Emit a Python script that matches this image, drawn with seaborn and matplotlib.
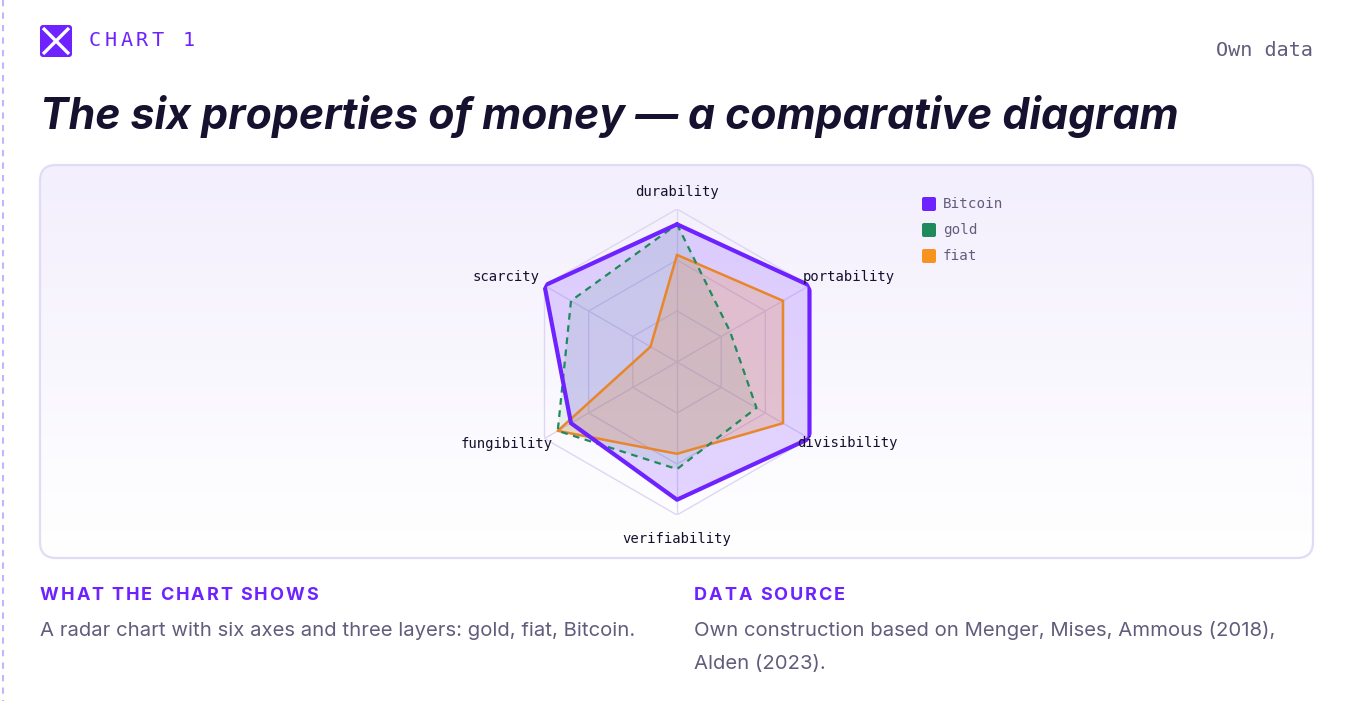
import numpy as np
import pandas as pd
import matplotlib
matplotlib.use("Agg")

import matplotlib.pyplot as plt
import seaborn as sns
from matplotlib.patches import FancyBboxPatch


# ==============================
# DATA
# ==============================
AXES_LABELS = ["durability", "portability", "divisibility",
               "verifiability", "fungibility", "scarcity"]
BITCOIN = [9, 10, 10, 9, 8, 10]
GOLD = [9, 4, 6, 7, 9, 8]
FIAT = [7, 8, 8, 6, 9, 2]
SERIES_NAMES = ["Bitcoin", "gold", "fiat"]
R_MAX = 10
RINGS = [10 / 3, 20 / 3, 10]

PURPLE = "#6e22ff"
GREEN = "#1f8a5c"
ORANGE = "#e8862c"
ORANGE_KEY = "#f7931e"
INK = "#16112e"
MUTED = "#625c7c"
GRID = "#ddd7f3"

W, H = 1350, 701

sns.set_theme(style="white")
plt.rcParams["font.family"] = ["Inter", "DejaVu Sans"]

fig = plt.figure(figsize=(W / 100, H / 100), dpi=100)
fig.patch.set_facecolor("white")
renderer = fig.canvas.get_renderer()

# background / decoration axes in pixel coordinates
bg = fig.add_axes([0, 0, 1, 1])
bg.set_xlim(0, W)
bg.set_ylim(H, 0)
bg.axis("off")

bg.plot([3, 3], [0, H], color="#c4b5fd", lw=1.5, ls=(0, (3, 3)))

# panel with vertical gradient
panel = FancyBboxPatch((40, 165), 1273, 393, boxstyle="round,pad=0,rounding_size=16",
                       facecolor="none", edgecolor="#e1dcf6", lw=1.6, zorder=2)
bg.add_patch(panel)
grad = np.linspace(0, 1, 256).reshape(-1, 1)
top = np.array([243, 239, 253]) / 255
bot = np.array([255, 255, 255]) / 255
img = top + (bot - top) * grad[..., None]
im = bg.imshow(img, extent=[40, 1313, 558, 165], aspect="auto", zorder=1)
im.set_clip_path(panel)

# icon
bg.add_patch(FancyBboxPatch((40, 25), 32, 32, boxstyle="round,pad=0,rounding_size=3",
                            facecolor=PURPLE, edgecolor="none", zorder=3))
bg.plot([43, 69], [28, 54], color="white", lw=2.4, zorder=4, solid_capstyle="butt")
bg.plot([43, 69], [54, 28], color="white", lw=2.4, zorder=4, solid_capstyle="butt")


def spaced(x, y, s, step, **kw):
    for i, ch in enumerate(s):
        bg.text(x + i * step, y, ch, **kw)


def text_w(s, **kw):
    t = bg.text(0, 0, s, **kw)
    w = t.get_window_extent(renderer=renderer).width
    t.remove()
    return w


def tracked(x, y, s, track, **kw):
    # letter-spaced text in a proportional font
    bar = text_w("|", **kw)
    for i, ch in enumerate(s):
        off = text_w(s[:i] + "|", **kw) - bar if i else 0
        bg.text(x + off + i * track, y, ch, **kw)


spaced(89, 40, "CHART 1", 15.6, color=PURPLE, fontsize=14.5,
       family="DejaVu Sans Mono", va="center", ha="left")
bg.text(1313, 51, "Own data", color=MUTED, fontsize=14.5, family="DejaVu Sans Mono",
        ha="right", va="center")

bg.text(40, 117, "The six properties of money \u2014 a comparative diagram", color=INK,
        fontsize=30.8, fontweight="bold", fontstyle="italic", ha="left", va="center")

head_kw = dict(color=PURPLE, fontsize=13, fontweight="bold", va="center", ha="left")
tracked(40, 596, "WHAT THE CHART SHOWS", 1.9, **head_kw)
tracked(694, 596, "DATA SOURCE", 1.9, **head_kw)
bg.text(40, 631, "A radar chart with six axes and three layers: gold, fiat, Bitcoin.",
        color=MUTED, fontsize=14.6, va="center", ha="left")
bg.text(694, 631, "Own construction based on Menger, Mises, Ammous (2018),",
        color=MUTED, fontsize=14.6, va="center", ha="left")
bg.text(694, 664, "Alden (2023).", color=MUTED, fontsize=14.6, va="center", ha="left")

# legend
for i, (name, c) in enumerate(zip(SERIES_NAMES, [PURPLE, GREEN, ORANGE_KEY])):
    y = 204 + i * 26
    bg.add_patch(FancyBboxPatch((922, y - 7), 14, 14, boxstyle="round,pad=0,rounding_size=2",
                                facecolor=c, edgecolor="none", zorder=3))
    bg.text(943, y, name, color=MUTED, fontsize=10.3, family="DejaVu Sans Mono",
            va="center", ha="left", zorder=3)

# ==============================
# RADAR
# ==============================
cx, cy, rad = 677, 362, 153
ax = fig.add_axes([(cx - rad) / W, 1 - (cy + rad) / H, 2 * rad / W, 2 * rad / H],
                  projection="polar")
ax.set_facecolor("none")
ax.set_theta_offset(np.pi / 2)
ax.set_theta_direction(-1)
ax.set_ylim(0, R_MAX)
ax.grid(False)
ax.spines["polar"].set_visible(False)

theta = np.deg2rad(np.arange(len(AXES_LABELS)) * 60)
theta_c = np.append(theta, theta[0])

for r in RINGS:
    ax.plot(theta_c, [r] * len(theta_c), color=GRID, lw=1, zorder=1)
for t in theta:
    ax.plot([t, t], [0, R_MAX], color=GRID, lw=1, zorder=1)

rows = []
for name, vals in zip(SERIES_NAMES, [BITCOIN, GOLD, FIAT]):
    closed = vals + vals[:1]
    for i, (t, v) in enumerate(zip(theta_c, closed)):
        rows.append({"series": name, "theta": t, "value": v, "order": i})
df = pd.DataFrame(rows)

fills = {"Bitcoin": (PURPLE, 0.18), "gold": (GREEN, 0.10), "fiat": (ORANGE, 0.22)}
for name in SERIES_NAMES:
    d = df[df.series == name]
    c, a = fills[name]
    ax.fill(d.theta, d.value, color=c, alpha=a, lw=0, zorder=2)

styles = {"Bitcoin": (PURPLE, 3.0, "-", 5), "gold": (GREEN, 1.6, (0, (3, 2.5)), 4),
          "fiat": (ORANGE, 1.8, "-", 3)}
for name in ["fiat", "gold", "Bitcoin"]:
    d = df[df.series == name]
    c, lw, ls, z = styles[name]
    sns.lineplot(data=d, x="theta", y="value", sort=False, estimator=None, ax=ax,
                 color=c, lw=lw, linestyle=ls, zorder=z, legend=False)
ax.set_xlabel("")
ax.set_ylabel("")
ax.set_xticks([])
ax.set_yticks([])
ax.set_ylim(0, R_MAX)

offsets = [(0, 17, "center"), (-7, 9, "left"), (-12, -5, "left"),
           (0, -24, "center"), (8, -5, "right"), (-5, 9, "right")]
for t, lab, (dx, dy, ha) in zip(theta, AXES_LABELS, offsets):
    ax.annotate(lab, xy=(t, R_MAX), xytext=(dx, dy), textcoords="offset pixels",
                ha=ha, va="center", fontsize=10, family="DejaVu Sans Mono",
                color=INK, zorder=6, annotation_clip=False)

fig.savefig("out.png", dpi=100, facecolor="white")
